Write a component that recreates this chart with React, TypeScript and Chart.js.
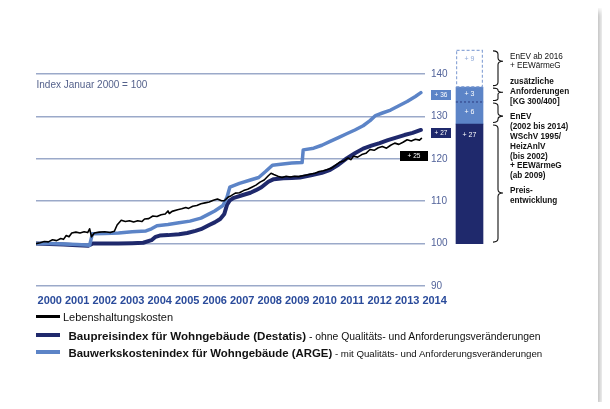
import React, { useEffect, useRef } from 'react';
import { Chart, registerables } from 'chart.js';

Chart.register(...registerables);

// ---------- data ----------
const years = [2000, 2001, 2002, 2003, 2004, 2005, 2006, 2007, 2008, 2009, 2010, 2011, 2012, 2013, 2014];
const yTicks = [90, 100, 110, 120, 130, 140];

// Lebenshaltungskosten (consumer prices)
const cpiT = [2000.0, 2000.15, 2000.3, 2000.45, 2000.6, 2000.75, 2000.9, 2001.0, 2001.1, 2001.2, 2001.3, 2001.45, 2001.6, 2001.75, 2001.88, 2001.95, 2002.02, 2002.12, 2002.3, 2002.5, 2002.7, 2002.85, 2002.95, 2003.1, 2003.25, 2003.4, 2003.55, 2003.7, 2003.85, 2003.95, 2004.1, 2004.25, 2004.4, 2004.55, 2004.7, 2004.8, 2004.85, 2004.95, 2005.15, 2005.3, 2005.45, 2005.55, 2005.7, 2005.85, 2006.0, 2006.15, 2006.3, 2006.45, 2006.6, 2006.75, 2006.85, 2007.0, 2007.1, 2007.25, 2007.4, 2007.55, 2007.7, 2007.85, 2008.0, 2008.15, 2008.3, 2008.45, 2008.55, 2008.65, 2008.8, 2008.95, 2009.1, 2009.25, 2009.4, 2009.55, 2009.7, 2009.85, 2010.0, 2010.15, 2010.3, 2010.45, 2010.6, 2010.75, 2010.9, 2011.05, 2011.2, 2011.35, 2011.45, 2011.55, 2011.7, 2011.85, 2012.0, 2012.15, 2012.3, 2012.45, 2012.6, 2012.75, 2012.9, 2013.05, 2013.2, 2013.35, 2013.5, 2013.65, 2013.8, 2013.95, 2014.02];
const cpiV = [100.0, 100.2, 100.5, 100.4, 100.9, 100.7, 101.2, 101.0, 101.9, 101.6, 102.5, 102.7, 102.5, 102.8, 102.6, 103.5, 101.6, 102.5, 102.7, 102.8, 102.6, 102.9, 104.4, 105.5, 105.2, 105.4, 105.1, 105.4, 105.2, 105.8, 105.9, 106.5, 106.4, 106.8, 107.0, 107.7, 107.1, 107.6, 108.0, 108.2, 108.5, 108.3, 108.8, 109.0, 109.4, 109.6, 109.8, 110.2, 110.5, 110.1, 110.1, 111.0, 111.3, 111.9, 112.0, 112.5, 112.8, 113.3, 113.8, 114.5, 115.0, 116.0, 116.6, 116.3, 115.9, 115.6, 115.9, 115.7, 115.9, 115.8, 116.0, 116.2, 116.4, 116.6, 117.0, 117.2, 117.5, 117.8, 118.5, 119.2, 119.5, 120.2, 119.8, 120.6, 120.4, 121.0, 121.3, 122.2, 122.0, 122.6, 122.9, 122.5, 123.2, 123.7, 123.4, 123.9, 124.5, 124.2, 124.6, 124.4, 124.8];

// Baupreisindex für Wohngebäude (Destatis)
const baupreisT = [2000.0, 2000.5, 2001.0, 2001.5, 2001.9, 2002.05, 2002.5, 2003.0, 2003.5, 2003.9, 2004.2, 2004.35, 2004.5, 2004.8, 2005.2, 2005.5, 2005.8, 2006.0, 2006.3, 2006.5, 2006.7, 2006.85, 2006.95, 2007.05, 2007.2, 2007.5, 2007.8, 2008.0, 2008.2, 2008.45, 2008.65, 2009.0, 2009.3, 2009.6, 2010.0, 2010.4, 2010.7, 2011.0, 2011.3, 2011.6, 2011.9, 2012.2, 2012.5, 2012.8, 2013.1, 2013.4, 2013.7, 2014.0];
const baupreisV = [100.0, 99.9, 99.8, 99.6, 99.5, 100.0, 100.0, 100.0, 100.1, 100.2, 100.8, 101.6, 101.9, 102.0, 102.2, 102.5, 103.0, 103.4, 104.4, 105.0, 105.8, 107.0, 109.2, 110.2, 110.8, 111.4, 112.0, 112.6, 113.3, 114.6, 115.2, 115.4, 115.5, 115.6, 116.1, 116.7, 117.4, 118.6, 120.1, 121.3, 122.4, 123.1, 123.7, 124.4, 125.0, 125.6, 126.1, 126.8];

// Bauwerkskostenindex für Wohngebäude (ARGE)
const argeT = [2000.0, 2000.5, 2001.0, 2001.5, 2001.95, 2002.05, 2002.5, 2003.0, 2003.5, 2004.0, 2004.2, 2004.4, 2004.8, 2005.2, 2005.6, 2006.0, 2006.3, 2006.5, 2006.8, 2006.95, 2007.05, 2007.4, 2007.8, 2008.1, 2008.35, 2008.6, 2008.9, 2009.3, 2009.68, 2009.72, 2010.1, 2010.4, 2010.7, 2011.0, 2011.3, 2011.6, 2011.9, 2012.15, 2012.35, 2012.6, 2012.9, 2013.2, 2013.5, 2013.8, 2014.0];
const argeV = [100.0, 100.0, 99.9, 99.8, 99.6, 102.3, 102.4, 102.5, 102.8, 103.0, 103.5, 104.2, 104.5, 104.9, 105.3, 106.0, 107.0, 107.7, 109.0, 111.0, 113.3, 114.2, 115.0, 115.6, 117.0, 118.5, 118.7, 119.0, 119.1, 122.1, 122.5, 123.2, 124.1, 125.0, 125.9, 126.8, 127.8, 129.0, 130.2, 130.8, 131.5, 132.5, 133.5, 134.7, 135.6];

// stacked column (as drawn): segment edges and labels
const barEdges = [100, 128.2, 133.4, 136.9, 145.7];
const barLabels = ['+ 27', '+ 6', '+ 3', '+ 9'];
const endLabels = ['+ 36', '+ 27', '+ 25'];

// ---------- styles ----------
const FONT = '"Liberation Sans", Arial, Helvetica, sans-serif';
const NAVY = '#1f296c';
const ARGE = '#5c84c7';
const GRID = '#9ba9c9';
const X_MIN = 2000;
const X_MAX = 2014.15;
const PLOT_W = 389;
const yearPx = PLOT_W / (X_MAX - X_MIN);

const pts = (t: number[], v: number[]) => t.map((x, i) => ({ x, y: v[i] }));

const barDecor = {
  id: 'barDecor',
  afterDatasetsDraw(chart: any) {
    const ctx = chart.ctx as CanvasRenderingContext2D;
    const els = chart.data.datasets.map((_: any, i: number) => chart.getDatasetMeta(i).data[0]);
    const props = els.map((e: any) => e.getProps(['x', 'y', 'base', 'width'], true));
    ctx.save();
    const p3 = props[3];
    const L = p3.x - p3.width / 2;
    const R = p3.x + p3.width / 2;
    // dashed outline of planned increase
    ctx.setLineDash([3, 2]);
    ctx.lineWidth = 1.2;
    ctx.strokeStyle = '#8ea8d8';
    ctx.strokeRect(L + 0.6, p3.y + 0.6, p3.width - 1.2, p3.base - p3.y - 1.2);
    // dashed separator between +6 and +3
    const sep = props[2].base;
    ctx.strokeStyle = '#2c3a80';
    ctx.lineWidth = 1;
    ctx.setLineDash([2, 2]);
    ctx.beginPath();
    ctx.moveTo(L, sep);
    ctx.lineTo(R, sep);
    ctx.stroke();
    // braces
    ctx.setLineDash([]);
    ctx.strokeStyle = '#111';
    ctx.lineWidth = 1.1;
    const tipFrac = [0.58, 0.67, 0.33, 0.3];
    const bx = R + 15;
    props.forEach((p: any, i: number) => {
      const t = p.y + 1;
      const b = p.base - 1.5;
      const m = t + (b - t) * tipFrac[i];
      const r = Math.min(3.5, (m - t) / 2, (b - m) / 2);
      ctx.beginPath();
      ctx.moveTo(bx - 5, t);
      ctx.quadraticCurveTo(bx, t, bx, t + r);
      ctx.lineTo(bx, m - r);
      ctx.quadraticCurveTo(bx, m, bx + 5, m);
      ctx.quadraticCurveTo(bx, m, bx, m + r);
      ctx.lineTo(bx, b - r);
      ctx.quadraticCurveTo(bx, b, bx - 5, b);
      ctx.stroke();
    });
    ctx.restore();
  },
};

const abs = (s: React.CSSProperties): React.CSSProperties => ({ position: 'absolute', fontFamily: FONT, whiteSpace: 'nowrap', ...s });

function ValueBox({ left, top, width, bg, text }: { left: number; top: number; width: number; bg: string; text: string }) {
  return (
    <div style={abs({ left, top, width, height: 10, background: bg, color: '#fff', fontSize: 6.5, lineHeight: '10px', textAlign: 'center' })}>{text}</div>
  );
}

export default function App() {
  const lineRef = useRef<HTMLCanvasElement | null>(null);
  const barRef = useRef<HTMLCanvasElement | null>(null);

  useEffect(() => {
    const lineChart = new Chart(lineRef.current as HTMLCanvasElement, {
      type: 'line',
      data: {
        datasets: [
          { label: 'Lebenshaltungskosten', data: pts(cpiT, cpiV), borderColor: '#000', borderWidth: 1.6 },
          { label: 'ARGE', data: pts(argeT, argeV), borderColor: ARGE, borderWidth: 3.5 },
          { label: 'Destatis', data: pts(baupreisT, baupreisV), borderColor: NAVY, borderWidth: 4 },
        ] as any,
      },
      options: {
        animation: false,
        responsive: false,
        maintainAspectRatio: false,
        layout: { padding: { left: 28, top: 66, right: 133, bottom: 22 } },
        elements: {
          point: { radius: 0 },
          line: { tension: 0, borderJoinStyle: 'round', borderCapStyle: 'round', fill: false },
        },
        plugins: { legend: { display: false }, tooltip: { enabled: false } },
        scales: {
          x: {
            type: 'linear',
            min: X_MIN,
            max: X_MAX,
            grid: { display: false },
            border: { display: false },
            afterBuildTicks: (s: any) => {
              s.ticks = years.map((v) => ({ value: v }));
            },
            afterFit: (s: any) => {
              s.height = 30;
            },
            ticks: {
              autoSkip: false,
              maxRotation: 0,
              minRotation: 0,
              padding: 0,
              labelOffset: yearPx / 2,
              color: '#2a4b9b',
              font: { family: FONT, size: 11, weight: 'bold' },
              callback: (v: any) => String(v),
            },
          },
          y: {
            position: 'right',
            min: 90,
            max: 140,
            afterBuildTicks: (s: any) => {
              s.ticks = yTicks.map((v) => ({ value: v }));
            },
            afterFit: (s: any) => {
              s.width = 40;
            },
            grid: { color: GRID, lineWidth: 1.5, drawTicks: false },
            border: { display: false },
            ticks: { padding: 6, color: '#52639a', font: { family: FONT, size: 10 } },
          },
        },
      } as any,
    });

    const barColors = [NAVY, ARGE, ARGE, '#ffffff'];
    const barChart = new Chart(barRef.current as HTMLCanvasElement, {
      type: 'bar',
      data: {
        labels: [''],
        datasets: barLabels.map((lab, i) => ({
          label: lab,
          data: [[barEdges[i], barEdges[i + 1]]],
          backgroundColor: barColors[i],
          borderWidth: 0,
          grouped: false,
          clip: false,
          barPercentage: 1,
          categoryPercentage: 1,
        })) as any,
      },
      options: {
        animation: false,
        responsive: false,
        maintainAspectRatio: false,
        layout: { padding: { left: 6, right: 37, top: 34, bottom: 4 } },
        plugins: { legend: { display: false }, tooltip: { enabled: false } },
        scales: {
          x: { display: false },
          y: { display: false, min: 90, max: 140 },
        },
      } as any,
      plugins: [barDecor],
    });

    return () => {
      lineChart.destroy();
      barChart.destroy();
    };
  }, []);

  const annot = (top: number, lines: string[], bold: boolean) => (
    <div style={abs({ left: 502, top, fontSize: 8.2, lineHeight: '9.8px', fontWeight: bold ? 'bold' : 'normal', color: '#111' })}>
      {lines.map((l, i) => (
        <div key={i}>{l}</div>
      ))}
    </div>
  );

  const barLabelY = [127, 104, 86, 51];

  return (
    <div style={{ position: 'relative', width: 590, height: 394, background: '#fff', boxShadow: '2px 3px 6px rgba(0,0,0,0.3)' }}>
      <canvas ref={lineRef} width={590} height={330} style={{ position: 'absolute', left: 0, top: 0 }} />
      <canvas ref={barRef} width={70} height={250} style={{ position: 'absolute', left: 442, top: 32 }} />

      <div style={abs({ left: 28.5, top: 71, fontSize: 10, lineHeight: '12px', color: '#55628c' })}>Index Januar 2000 = 100</div>

      <ValueBox left={423} top={81.5} width={20} bg={ARGE} text={endLabels[0]} />
      <ValueBox left={423} top={120.3} width={20} bg={NAVY} text={endLabels[1]} />
      <ValueBox left={392} top={143} width={28} bg={'#000'} text={endLabels[2]} />

      {barLabels.map((l, i) => (
        <div key={i} style={abs({ left: 448, width: 27, top: barLabelY[i] - 5, lineHeight: '10px', fontSize: 7, textAlign: 'center', color: i === 3 ? '#8ea8d8' : '#fff' })}>
          {l}
        </div>
      ))}

      {annot(43.7, ['EnEV ab 2016', '+ EEWärmeG'], false)}
      {annot(69.4, ['zusätzliche', 'Anforderungen', '[KG 300/400]'], true)}
      {annot(104.4, ['EnEV', '(2002 bis 2014)', 'WSchV 1995/', 'HeizAnlV', '(bis 2002)', '+ EEWärmeG', '(ab 2009)'], true)}
      {annot(177.8, ['Preis-', 'entwicklung'], true)}

      {/* legend */}
      <div style={abs({ left: 28, top: 307, width: 23.5, height: 3, background: '#000' })} />
      <div style={abs({ left: 55, top: 301.5, fontSize: 11, lineHeight: '14px', color: '#111' })}>Lebenshaltungskosten</div>

      <div style={abs({ left: 28, top: 325, width: 23.5, height: 4, background: NAVY })} />
      <div style={abs({ left: 60.5, top: 320, lineHeight: '14px', color: '#111' })}>
        <span style={{ fontSize: 11.6, fontWeight: 'bold' }}>Baupreisindex für Wohngebäude (Destatis)</span>
        <span style={{ fontSize: 10.4 }}> - ohne Qualitäts- und Anforderungsveränderungen</span>
      </div>

      <div style={abs({ left: 28, top: 342, width: 23.5, height: 4, background: ARGE })} />
      <div style={abs({ left: 60.5, top: 337, lineHeight: '14px', color: '#111' })}>
        <span style={{ fontSize: 11.4, fontWeight: 'bold' }}>Bauwerkskostenindex für Wohngebäude (ARGE)</span>
        <span style={{ fontSize: 9.7 }}> - mit Qualitäts- und Anforderungsveränderungen</span>
      </div>
    </div>
  );
}
